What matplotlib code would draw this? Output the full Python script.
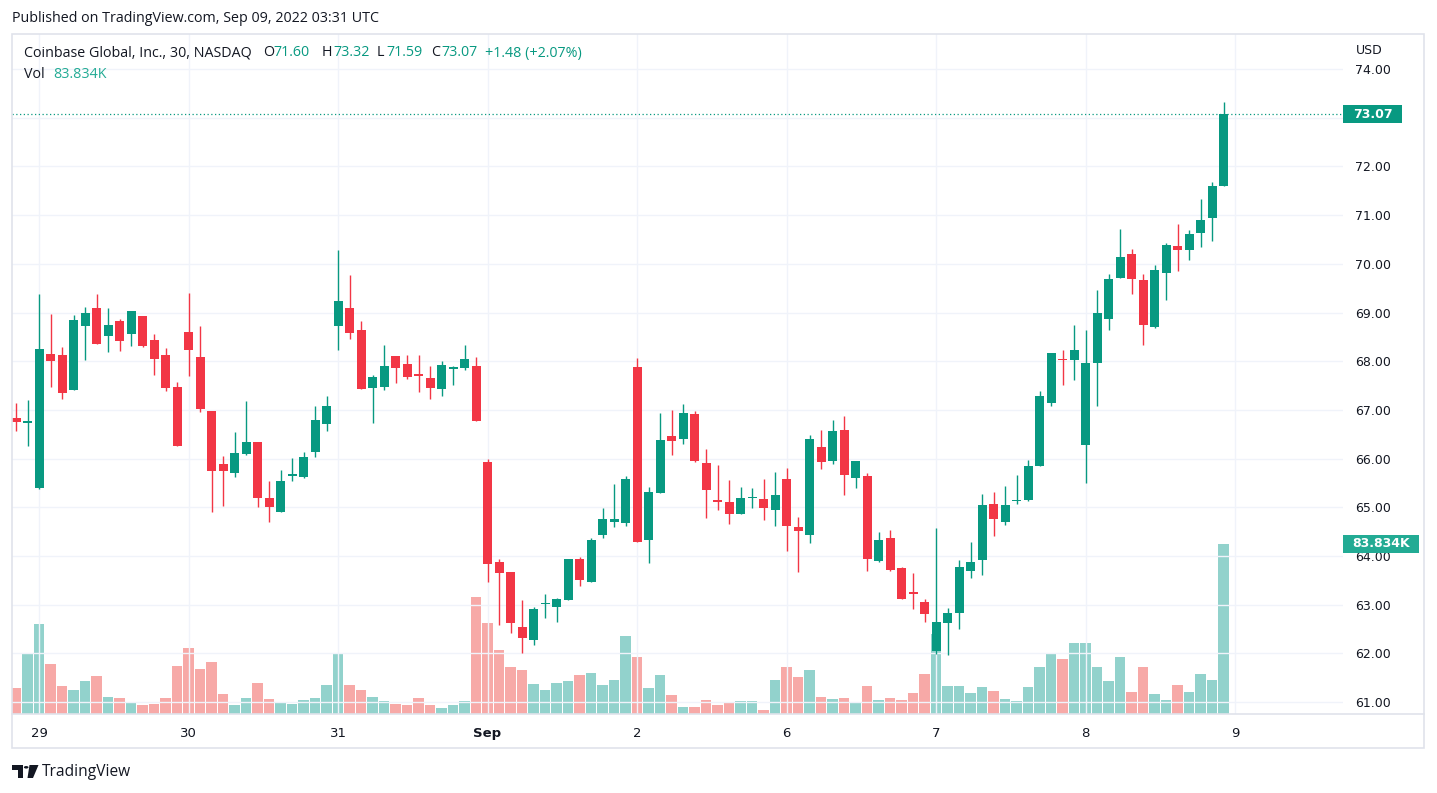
import matplotlib
matplotlib.use("Agg")
import matplotlib.pyplot as plt
import matplotlib.transforms as mtransforms
from matplotlib.patches import Rectangle, Polygon, Circle
from matplotlib.text import Text
import numpy as np

# ---------------- data (30-min bars, COIN, Aug 26 - Sep 8 2022) ----------------
opens = [66.84, 66.74,
         65.39, 68.15, 68.13, 67.41, 68.72, 69.09, 68.52, 68.82, 68.56, 68.92, 68.43, 68.13, 67.47,
         68.60, 68.08, 66.98, 65.88, 65.70, 66.09, 66.35, 65.20, 64.90, 65.65, 65.62, 66.13, 66.72,
         68.73, 69.09, 68.64, 67.46, 67.48, 68.10, 67.94, 67.74, 67.66, 67.42, 67.83, 67.87, 67.90,
         65.94, 63.87, 63.67, 62.54, 62.28, 63.01, 62.96, 63.10, 63.93, 63.47, 64.43, 64.69, 64.67,
         67.88, 64.33, 65.29, 66.47, 66.41, 66.92, 65.92, 65.16, 65.10, 64.86, 65.19, 65.18, 64.94,
         65.59, 64.59, 64.43, 66.24, 65.96, 66.59, 65.60, 65.65, 63.90, 64.38, 63.75, 63.26, 63.05,
         62.04, 62.63, 62.83, 63.69, 63.92, 65.06, 64.70, 65.13, 65.15, 65.84, 67.15, 68.05, 68.02,
         66.28, 67.97, 68.87, 69.71, 70.20, 69.66, 68.71, 69.82, 70.36, 70.29, 70.63, 70.94, 71.60]
highs = [67.14, 67.21,
         69.39, 68.96, 68.29, 68.94, 69.11, 69.37, 69.09, 68.86, 69.03, 68.93, 68.55, 68.27, 67.57,
         69.41, 68.72, 66.98, 66.06, 66.54, 67.18, 66.35, 65.55, 65.77, 66.02, 66.14, 67.08, 67.29,
         70.29, 69.78, 68.82, 67.72, 68.33, 68.10, 68.13, 68.13, 67.90, 68.00, 67.90, 68.33, 68.08,
         66.00, 63.93, 63.67, 63.09, 62.95, 63.22, 63.14, 63.93, 63.97, 64.38, 64.98, 65.47, 65.65,
         68.06, 65.41, 66.94, 67.00, 67.12, 66.98, 66.20, 65.86, 65.57, 65.41, 65.39, 65.59, 65.73,
         65.81, 64.80, 66.49, 66.59, 66.80, 66.88, 65.96, 65.71, 64.49, 64.53, 63.77, 63.65, 63.11,
         64.57, 62.93, 63.91, 64.28, 65.28, 65.32, 65.43, 65.67, 65.97, 67.39, 68.16, 68.24, 68.74,
         68.64, 69.46, 69.79, 70.71, 70.30, 69.79, 69.97, 70.42, 70.82, 70.69, 71.34, 71.68, 73.32]
lows = [66.56, 66.25,
        65.38, 67.48, 67.23, 67.40, 68.03, 68.35, 68.19, 68.21, 68.32, 68.29, 67.72, 67.39, 66.25,
        67.70, 66.95, 64.90, 65.02, 65.62, 66.08, 65.00, 64.70, 64.90, 65.54, 65.60, 66.03, 66.56,
        68.23, 68.46, 67.42, 66.74, 67.40, 67.56, 67.64, 67.36, 67.23, 67.29, 67.52, 67.81, 66.78,
        63.47, 62.59, 62.41, 62.00, 62.17, 62.73, 62.65, 63.10, 63.39, 63.47, 64.37, 64.59, 64.61,
        64.29, 63.86, 65.29, 66.08, 66.29, 65.94, 64.78, 64.94, 64.66, 64.86, 64.98, 64.74, 64.61,
        64.10, 63.67, 64.27, 65.78, 65.88, 65.25, 65.39, 63.69, 63.88, 63.69, 63.12, 62.92, 62.65,
        61.98, 61.96, 62.51, 63.55, 63.61, 64.41, 64.63, 65.06, 65.12, 65.84, 67.08, 67.52, 67.61,
        65.50, 67.08, 68.65, 69.70, 69.39, 68.34, 68.68, 69.26, 69.86, 70.08, 70.35, 70.47, 71.59]
closes = [66.76, 66.77,
          68.25, 68.00, 67.35, 68.84, 69.00, 68.36, 68.74, 68.42, 69.03, 68.31, 68.05, 67.46, 66.25,
          68.23, 67.02, 65.74, 65.74, 66.12, 66.35, 65.19, 65.00, 65.55, 65.67, 66.04, 66.80, 67.08,
          69.23, 68.58, 67.42, 67.68, 67.90, 67.87, 67.68, 67.70, 67.46, 67.92, 67.88, 68.04, 66.78,
          63.84, 63.65, 62.63, 62.32, 62.91, 63.03, 63.12, 63.93, 63.51, 64.32, 64.77, 64.77, 65.58,
          64.29, 65.32, 66.39, 66.37, 66.94, 65.96, 65.35, 65.10, 64.86, 65.20, 65.21, 64.98, 65.26,
          64.61, 64.51, 66.41, 65.94, 66.57, 65.66, 65.96, 63.94, 64.32, 63.72, 63.12, 63.22, 62.80,
          62.64, 62.83, 63.77, 63.87, 65.04, 64.76, 65.04, 65.15, 65.84, 67.28, 68.16, 68.02, 68.24,
          67.96, 68.98, 69.68, 70.13, 69.68, 68.74, 69.87, 70.39, 70.29, 70.61, 70.90, 71.59, 73.07]
volumes_k = [12.7, 29.5,
             44.2, 24.9, 13.7, 12.0, 16.2, 18.6, 8.3, 7.8, 5.3, 4.3, 4.8, 7.8, 23.6,
             32.3, 22.4, 25.4, 10.1, 4.6, 8.1, 15.5, 7.6, 5.6, 5.1, 7.1, 8.1, 14.5,
             29.7, 14.5, 12.0, 8.6, 6.6, 5.1, 4.6, 8.1, 4.6, 3.1, 4.6, 6.6, 57.6,
             44.7, 31.4, 23.4, 21.5, 15.0, 12.0, 15.5, 16.5, 19.0, 20.0, 14.5, 17.0, 38.3,
             27.9, 13.0, 19.0, 9.6, 3.6, 3.6, 7.1, 4.6, 5.6, 6.6, 6.6, 2.1, 17.0,
             23.4, 18.0, 21.5, 8.6, 7.6, 8.1, 6.1, 14.0, 7.1, 8.1, 7.1, 10.6, 19.5,
             39.3, 14.0, 14.0, 10.6, 13.5, 11.1, 7.6, 6.6, 13.1, 23.0, 29.9, 26.9, 34.9,
             34.9, 23.0, 16.2, 27.9, 10.7, 23.0, 10.1, 7.1, 14.5, 10.7, 19.6, 17.0, 83.834]

day_labels = ["29", "30", "31", "Sep", "2", "6", "7", "8", "9"]
day_start_bars = [2, 15, 28, 41, 54, 67, 80, 93, 106]
price_ticks = [61, 62, 63, 64, 65, 66, 67, 68, 69, 70, 71, 72, 73, 74]

last_open, last_high, last_low, last_close = 71.60, 73.32, 71.59, 73.07
last_change, last_change_pct = 1.48, 2.07
last_volume_label = "83.834K"

# ---------------- style ----------------
UP = "#089981"
DOWN = "#f23645"
UP_VOL = "#92d2cc"
DOWN_VOL = "#f7a9a7"
VOL_LABEL = "#22ab94"
TXT = "#131722"
GRID = "#f0f3fa"
BORDER = "#e0e3eb"

W, H = 1437, 793
fig = plt.figure(figsize=(W / 100, H / 100), dpi=100)
fig.patch.set_facecolor("white")


def fx(px):
    return px / W


def fy(py):
    return 1 - py / H


L, R, T, B = 12, 1343, 34, 714
rect = [fx(L), fy(B), (R - L) / W, (B - T) / H]

ax_v = fig.add_axes(rect, zorder=1)
ax = fig.add_axes(rect, zorder=2)
ax.patch.set_visible(False)

x = np.arange(len(closes))
o = np.array(opens)
h = np.array(highs)
l = np.array(lows)
c = np.array(closes)
v = np.array(volumes_k)
up = c >= o

xlim = (-0.35, 115.39)

# volume
ax_v.bar(x, v, width=0.9, color=np.where(up, UP_VOL, DOWN_VOL), linewidth=0)
ax_v.set_xlim(*xlim)
ax_v.set_ylim(0, 335.3)
ax_v.axis("off")

# candles
cols = np.where(up, UP, DOWN)
ax.vlines(x, l, h, colors=cols, linewidth=1.0, zorder=3)
body_bottom = np.minimum(o, c)
body_h = np.maximum(np.abs(c - o), 0.03)
ax.bar(x, body_h, bottom=body_bottom, width=0.78, color=cols, linewidth=0, zorder=4)

ax.set_xlim(*xlim)
ax.set_ylim(60.756, 74.719)

# last price dotted line
ax.axhline(last_close, color=UP, linestyle=(0, (1, 2)), linewidth=0.9, zorder=2)

# axes / grid (tick label hidden where the last-price badge covers it)
for s in ax.spines.values():
    s.set_visible(False)
ax.yaxis.tick_right()
ax.set_yticks(price_ticks)
ax.set_yticklabels(["" if abs(p - last_close) < 0.4 else f"{p:.2f}" for p in price_ticks])
ax.set_xticks(day_start_bars)
ax.set_xticklabels(day_labels)
ax.tick_params(axis="y", length=0, pad=8.6, labelsize=9, labelcolor=TXT)
ax.tick_params(axis="x", length=0, pad=9.5, labelsize=9.5, labelcolor=TXT)
for lab in ax.get_xticklabels():
    if lab.get_text() == "Sep":
        lab.set_fontweight("bold")
ax.grid(True, color=GRID, linewidth=1.0, zorder=0)
ax.set_axisbelow(True)

# cover top of the price scale for "USD"
fig.add_artist(Rectangle((fx(1345), fy(64)), (1422 - 1345) / W, 29 / H,
                         transform=fig.transFigure, facecolor="white", edgecolor="none", zorder=5))
fig.text(fx(1356), fy(50), "USD", fontsize=9, color=TXT, va="center", ha="left", zorder=6)

# last price label box
blend = mtransforms.blended_transform_factory(ax.transAxes, ax.transData)
fig.add_artist(Rectangle(((1343 - L) / (R - L), last_close - 9 / 48.7), 59 / (R - L), 18 / 48.7,
                         transform=blend, facecolor=UP, edgecolor="none", clip_on=False, zorder=6))
fig.add_artist(Text((1373 - L) / (R - L), last_close, f"{last_close:.2f}", transform=blend, color="white",
                    fontsize=9, fontweight="bold", ha="center", va="center", zorder=7))

# last volume label box
blend_v = mtransforms.blended_transform_factory(ax_v.transAxes, ax_v.transData)
vpx = 170 / 83.834
fig.add_artist(Rectangle(((1343 - L) / (R - L), v[-1] - 9 / vpx), 76 / (R - L), 18 / vpx,
                         transform=blend_v, facecolor=VOL_LABEL, edgecolor="none", clip_on=False, zorder=6))
fig.add_artist(Text((1381 - L) / (R - L), v[-1], last_volume_label, transform=blend_v, color="white",
                    fontsize=9, fontweight="bold", ha="center", va="center", zorder=7))

# frame
fig.add_artist(Rectangle((fx(12), fy(748)), (1424 - 12) / W, (748 - 34) / H, transform=fig.transFigure,
                         facecolor="none", edgecolor=BORDER, linewidth=1.2, zorder=8))
fig.add_artist(plt.Line2D([fx(12), fx(1424)], [fy(714), fy(714)], transform=fig.transFigure,
                          color=BORDER, linewidth=1.2, zorder=8))

# header
HF = "Open Sans"
HS = 10.3
fig.text(fx(12), fy(19), "Published on TradingView.com, Sep 09, 2022 03:31 UTC", fontsize=HS,
         family=HF, color=TXT, va="center", ha="left")
fig.text(fx(24), fy(53), "Coinbase Global, Inc., 30, NASDAQ", fontsize=HS, family=HF, color=TXT,
         va="center", ha="left")
pieces = [(263, "O", TXT), (273, f"{last_open:.2f}", UP), (322, "H", TXT), (333, f"{last_high:.2f}", UP),
          (377, "L", TXT), (386, f"{last_low:.2f}", UP), (431, "C", TXT), (441, f"{last_close:.2f}", UP),
          (485, f"+{last_change:.2f} (+{last_change_pct:.2f}%)", UP)]
for px, s, col in pieces:
    fig.text(fx(px), fy(53), s, fontsize=HS, family=HF, color=col, va="center", ha="left")
fig.text(fx(24), fy(74), "Vol", fontsize=HS, family=HF, color=TXT, va="center", ha="left")
fig.text(fx(53), fy(74), last_volume_label, fontsize=HS, family=HF, color=VOL_LABEL, va="center", ha="left")

# TradingView logo + wordmark
fig.add_artist(Polygon([(fx(12), fy(765)), (fx(23), fy(765)), (fx(23), fy(778)), (fx(18), fy(778)),
                        (fx(18), fy(769.5)), (fx(12), fy(769.5))], closed=True,
                       transform=fig.transFigure, facecolor=TXT, edgecolor="none"))
fig.add_artist(Circle((fx(26.2), fy(767.3)), 2.3 / W, transform=fig.transFigure, facecolor=TXT,
                      edgecolor="none"))
fig.add_artist(Polygon([(fx(29.5), fy(765)), (fx(38.5), fy(765)), (fx(33), fy(778)), (fx(27.5), fy(778))],
                       closed=True, transform=fig.transFigure, facecolor=TXT, edgecolor="none"))
fig.text(fx(42), fy(771.5), "TradingView", fontsize=11.2, family=HF, color=TXT, va="center", ha="left")

fig.savefig("out.png", dpi=100, facecolor="white")
